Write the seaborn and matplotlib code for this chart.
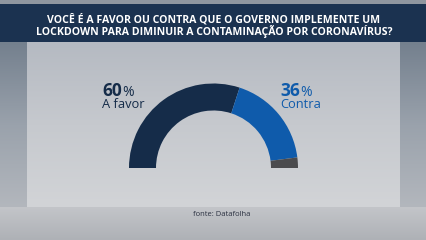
import numpy as np
import matplotlib
matplotlib.use("Agg")
import matplotlib.pyplot as plt
import seaborn as sns

sns.set_theme(style="white")
plt.rcParams['font.family'] = ['Open Sans', 'DejaVu Sans']

# Data
categories = ["A favor", "Contra", "Não sabe"]
values = [60, 36, 4]
labels_pct = ["60%", "36%"]
title_lines = ["VOCÊ É A FAVOR OU CONTRA QUE O GOVERNO IMPLEMENTE UM",
               "LOCKDOWN PARA DIMINUIR A CONTAMINAÇÃO POR CORONAVÍRUS?"]
source = "fonte: Datafolha"

colors = ["#152c49", "#0f5bab", "#4b4b4d"]

W, H = 427, 240
fig = plt.figure(figsize=(W / 100, H / 100), dpi=100)

# background axes in pixel coordinates
bg = fig.add_axes([0, 0, 1, 1])
bg.set_xlim(0, W)
bg.set_ylim(H, 0)
bg.axis("off")
LSC = matplotlib.colors.LinearSegmentedColormap
grad = np.linspace(0, 1, 200)[:, None]
# side areas
bg.imshow(grad, extent=[0, W, 208, 42], cmap=LSC.from_list("sd", ["#74808e", "#9aa2ac", "#b3b7bd"]),
          aspect="auto", zorder=0)
# central panel
bg.imshow(grad, extent=[27, 400, 207, 42], cmap=LSC.from_list("bg", ["#b5bac2", "#c6c9ce", "#d2d4d7"]),
          aspect="auto", zorder=1)
# floor
bg.imshow(grad, extent=[0, W, H, 207], cmap=LSC.from_list("fl", ["#c3c5c9", "#aeb1b6"]),
          aspect="auto", zorder=1)
# header
bg.add_patch(plt.Rectangle((0, 0), W, 4, color="#8f969f", zorder=2, lw=0))
bg.add_patch(plt.Rectangle((0, 4), W, 38, color="#1b3250", zorder=2, lw=0))
bg.text(214, 19.5, title_lines[0], color="white", fontsize=7.6, fontweight="bold",
        ha="center", va="center", zorder=3)
bg.text(214, 32, title_lines[1], color="white", fontsize=7.6, fontweight="bold",
        ha="center", va="center", zorder=3)

# labels
renderer = fig.canvas.get_renderer()
for x0, pct, cat, col in [(102, labels_pct[0], categories[0], colors[0]),
                          (280, labels_pct[1], categories[1], colors[1])]:
    t = bg.text(x0, 96, pct[:-1], color=col, fontsize=12.5, fontweight="bold",
                ha="left", va="baseline", zorder=3)
    bb = t.get_window_extent(renderer=renderer)
    bg.text(x0 + bb.width + 0.5, 96, "%", color=col, fontsize=10, ha="left", va="baseline", zorder=3)
    bg.text(x0, 108, cat, color=col, fontsize=9.3, ha="left", va="baseline", zorder=3)

bg.text(193, 214, source, color="#2a3040", fontsize=5.5, ha="left", va="center", zorder=3)

# gauge (half donut)
cx, cy, r = 213.5, 168, 84.5
ax = fig.add_axes([(cx - r) / W, (H - cy - r) / H, 2 * r / W, 2 * r / H])
pie_vals = values + [sum(values)]
pie_cols = colors + [(0, 0, 0, 0)]
ax.pie(pie_vals, colors=pie_cols, startangle=180, counterclock=False, radius=1,
       wedgeprops=dict(width=27 / r, linewidth=0))
ax.set_xlim(-1, 1)
ax.set_ylim(-1, 1)
ax.axis("off")
ax.patch.set_alpha(0)

fig.savefig("out.png", dpi=100)
